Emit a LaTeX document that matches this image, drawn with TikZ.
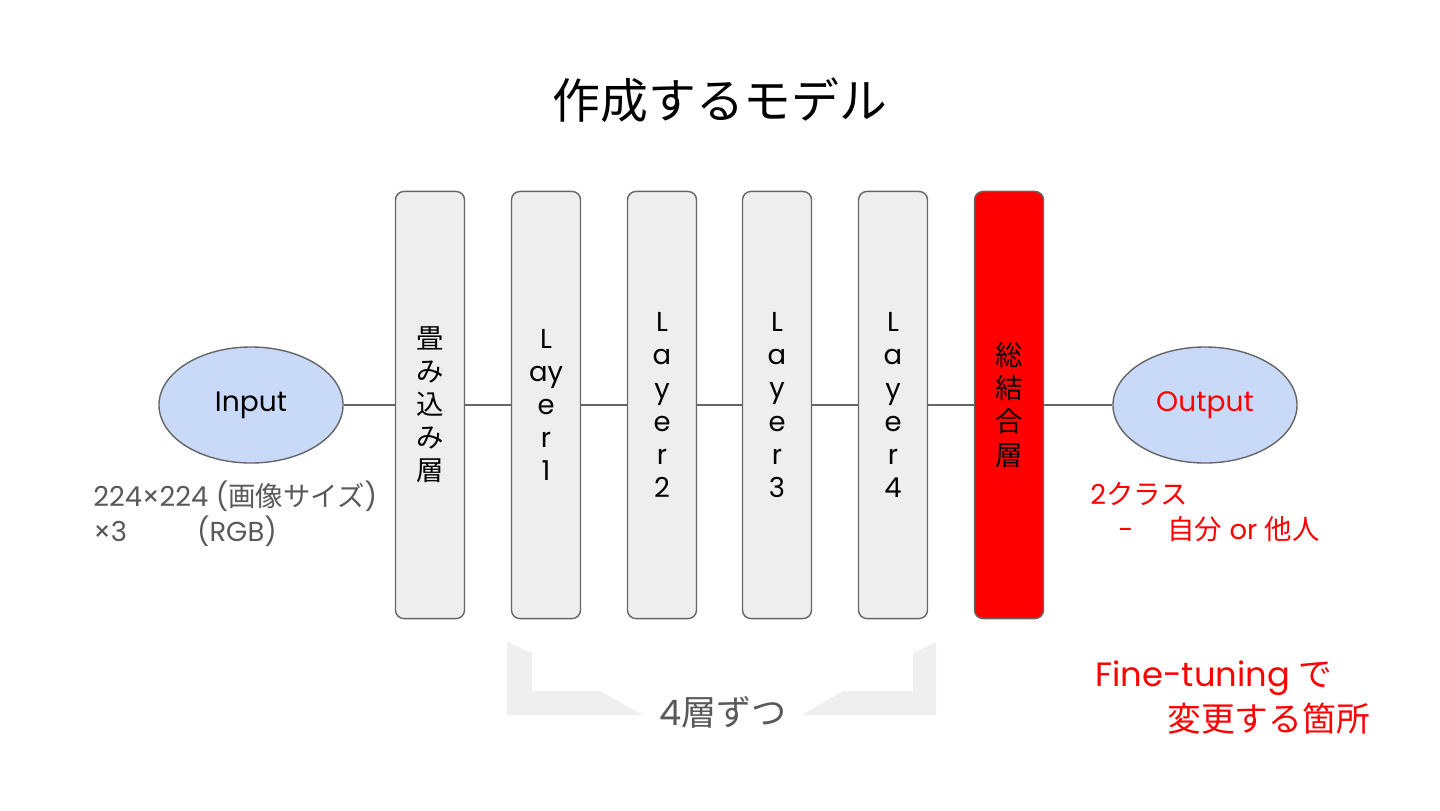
\documentclass[tikz,border=0pt]{standalone}
\usepackage{fontspec}
\usetikzlibrary{shapes.geometric}
\setmainfont{Poppins}
\newfontfamily\jp{Noto Sans CJK JP}
\definecolor{layergray}{HTML}{EEEEEE}
\definecolor{edgegray}{HTML}{666666}
\definecolor{textgray}{HTML}{595959}
\definecolor{ioblue}{HTML}{C9DAF8}
\definecolor{bracegray}{HTML}{EFEFEF}
\begin{document}
\begin{tikzpicture}[
  x=0.025cm, y=-0.025cm,
  layer/.style={draw=edgegray, line width=1pt, rounded corners=6pt, fill=layergray,
                minimum width=1.725cm, minimum height=10.675cm, inner sep=0pt,
                align=center, font=\fontsize{19.5}{23.5}\selectfont},
  io/.style={draw=edgegray, line width=1pt, ellipse, fill=ioblue,
             minimum width=4.6cm, minimum height=2.9cm, inner sep=0pt,
             font=\fontsize{20}{24}\selectfont},
  link/.style={draw=edgegray, line width=1pt},
  note/.style={anchor=west, inner sep=0pt, align=left, font=\fontsize{19.5}{25}\selectfont}
]
\useasboundingbox (0,0) rectangle (1440,810);

%% Title
\node[font=\jp\fontsize{34}{40}\selectfont] (title) at (720,100) {作成するモデル};

%% Bracket under the four layers
\fill[bracegray] (507,642) -- (532,653) -- (532,691) -- (600,691) -- (643,715) -- (507,715) -- cycle;
\fill[bracegray] (802,715) -- (843,691) -- (913,691) -- (913,653) -- (936,642) -- (936,715) -- cycle;
\node[text=textgray, font=\fontsize{25}{30}\selectfont] (group) at (723,712) {4{\jp 層ずつ}};

%% Input / Output
\node[io] (input)  at (251,405) {Input};
\node[io, text=red] (output) at (1205,405) {Output};

%% Layers
\node[layer] (conv) at (430,405)  {\jp 畳\\\jp み\\\jp 込\\\jp み\\\jp 層};
\node[layer] (l1)   at (546,405)  {L\\ay\\e\\r\\1};
\node[layer] (l2)   at (662,405)  {L\\a\\y\\e\\r\\2};
\node[layer] (l3)   at (777,405)  {L\\a\\y\\e\\r\\3};
\node[layer] (l4)   at (893,405)  {L\\a\\y\\e\\r\\4};
\node[layer, fill=red] (fc) at (1009,405) {\jp 総\\\jp 結\\\jp 合\\\jp 層};

%% Connections
\draw[link] (input) -- (conv);
\draw[link] (conv) -- (l1);
\draw[link] (l1) -- (l2);
\draw[link] (l2) -- (l3);
\draw[link] (l3) -- (l4);
\draw[link] (l4) -- (fc);
\draw[link] (fc) -- (output);

%% Notes
\node[note, text=textgray] (insize) at (93,514)
  {224×224 ({\jp 画像サイズ})\\×3\hspace{1.75cm}(RGB)};
\node[note, text=red] (classes) at (1090,512)
  {2{\jp クラス}\\\hspace*{0.7cm}-\hspace{0.85cm}{\jp 自分} or {\jp 他人}};
\node[note, text=red, font=\fontsize{24}{32}\selectfont] (finetune) at (1095,698)
  {Fine-tuning {\jp で}\\\hspace*{1.8cm}{\jp 変更する箇所}};

\end{tikzpicture}
\end{document}
